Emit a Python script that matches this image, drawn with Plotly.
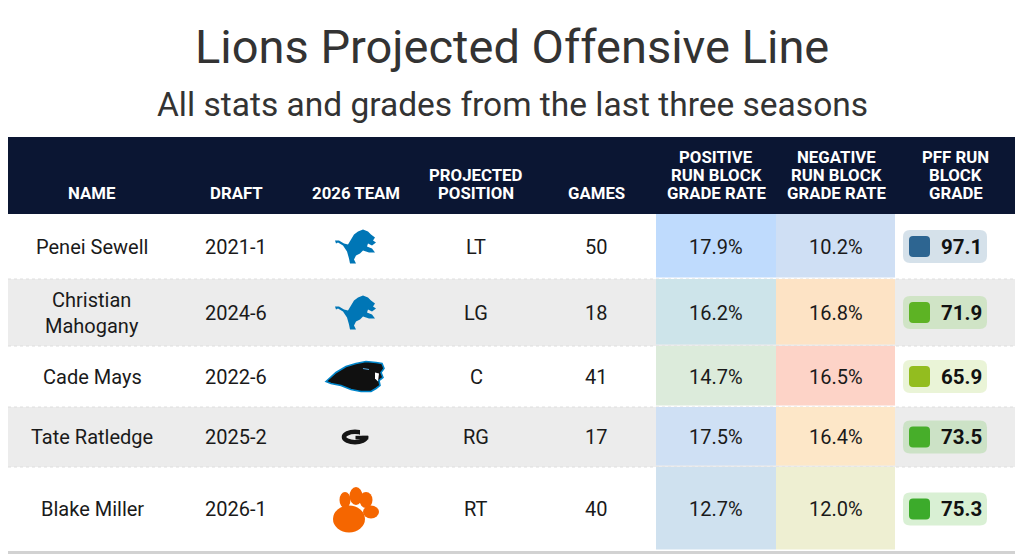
import plotly.graph_objects as go

# ---- data ----
names = ["Penei Sewell", "Christian Mahogany", "Cade Mays", "Tate Ratledge", "Blake Miller"]
drafts = ["2021-1", "2024-6", "2022-6", "2025-2", "2026-1"]
teams = ["Lions", "Lions", "Panthers", "Georgia", "Clemson"]
positions = ["LT", "LG", "C", "RG", "RT"]
games = [50, 18, 41, 17, 40]
pos_rate = [17.9, 16.2, 14.7, 17.5, 12.7]
neg_rate = [10.2, 16.8, 16.5, 16.4, 12.0]
grades = [97.1, 71.9, 65.9, 73.5, 75.3]

headers = [["NAME"], ["DRAFT"], ["2026 TEAM"], ["PROJECTED", "POSITION"], ["GAMES"],
           ["POSITIVE", "RUN BLOCK", "GRADE RATE"], ["NEGATIVE", "RUN BLOCK", "GRADE RATE"],
           ["PFF RUN", "BLOCK", "GRADE"]]

# ---- styles ----
pos_colors = ["#bfdbfd", "#cde4ea", "#dcebdb", "#cfe0f4", "#cfe1ef"]
neg_colors = ["#cfdff4", "#fde3c5", "#fdd3c7", "#fde7c8", "#eeefd2"]
badge_bg = ["#d5e1ea", "#d0e4c6", "#eaf4d7", "#cce2c6", "#d9f0d4"]
badge_sq = ["#2d6591", "#5db324", "#93bd1f", "#47ae2a", "#3cab2b"]

X_EDGES = [8, 176, 296, 416, 536, 656, 776, 896, 1015]
HEAD_TOP, HEAD_BOT = 137, 214
ROW_H = [65, 67, 61, 60, 84]
STRIPE = "#ececec"
NAVY = "#0b1633"
FONT = "Roboto"

W, H = 1024, 560
fig = go.Figure()
shapes = []
ann = []


def rrect(x0, y0, x1, y1, r):
    return (f"M {x0+r},{y0} L {x1-r},{y0} Q {x1},{y0} {x1},{y0+r} L {x1},{y1-r} "
            f"Q {x1},{y1} {x1-r},{y1} L {x0+r},{y1} Q {x0},{y1} {x0},{y1-r} "
            f"L {x0},{y0+r} Q {x0},{y0} {x0+r},{y0} Z")


def poly(cx, cy, pts, ox, oy):
    s = " L ".join(f"{cx + px - ox},{cy + py - oy}" for px, py in pts)
    return "M " + s + " Z"


LION = [(1, 11), (5, 11), (10, 14), (14, 15), (17, 10), (20, 5), (24, 2), (29, 0), (34, 2),
        (37, 5), (41, 8), (39, 11), (42, 13), (38, 16), (34, 14), (33, 17), (38, 19), (41, 23),
        (35, 23), (29, 21), (26, 24), (22, 26), (20, 30), (22, 34), (16, 34), (15, 29),
        (13, 22), (9, 16), (4, 13), (2, 14)]
PANTHER = [(0, 21), (10, 12), (20, 6), (30, 3), (40, 1), (50, 2), (56, 3), (58, 8), (55, 12),
           (57, 17), (53, 20), (54, 25), (50, 28), (45, 31), (35, 31), (25, 29), (15, 25), (5, 23)]


def logo(team, cx, cy, bg):
    out = []
    if team == "Lions":
        out.append(dict(type="path", path=poly(cx, cy, LION, 21, 17),
                        fillcolor="#0076b6", line=dict(width=0)))
    elif team == "Panthers":
        out.append(dict(type="path", path=poly(cx, cy, PANTHER, 29, 16),
                        fillcolor="#101010", line=dict(color="#0085ca", width=1.6)))
        out.append(dict(type="path",
                        path=f"M {cx+20},{cy-4} L {cx+24},{cy-3} L {cx+23},{cy+5} L {cx+20},{cy+2} Z",
                        fillcolor="white", line=dict(width=0)))
        out.append(dict(type="line", x0=cx + 8, x1=cx + 14, y0=cy - 8, y1=cy - 7,
                        line=dict(color="#5aa9dd", width=1.2)))
    elif team == "Georgia":
        out.append(dict(type="circle", x0=cx - 11, x1=cx + 11, y0=cy - 5.2, y1=cy + 5.2,
                        line=dict(color="#151515", width=4.6)))
        out.append(dict(type="rect", x0=cx + 5, x1=cx + 16, y0=cy - 10, y1=cy - 1.2,
                        fillcolor=bg, line=dict(width=0)))
        out.append(dict(type="rect", x0=cx + 0.5, x1=cx + 13.3, y0=cy - 1.2, y1=cy + 2.4,
                        fillcolor="#151515", line=dict(width=0)))
    elif team == "Clemson":
        orange = "#f56600"
        for dx, dy, rx, ry in [(-10, -9, 5.5, 8), (1, -13, 6.5, 9), (11, -9, 6.5, 8),
                               (16, 3, 8, 6.5), (-6, 10, 16, 13.5)]:
            out.append(dict(type="circle", x0=cx + dx - rx, x1=cx + dx + rx,
                            y0=cy + dy - ry, y1=cy + dy + ry,
                            fillcolor=orange, line=dict(width=0)))
    return out


# header band
shapes.append(dict(type="rect", x0=X_EDGES[0], x1=X_EDGES[-1], y0=HEAD_TOP, y1=HEAD_BOT,
                   fillcolor=NAVY, line=dict(width=0), layer="below"))
for j, lines in enumerate(headers):
    cx = (X_EDGES[j] + X_EDGES[j + 1]) / 2
    n = len(lines)
    for k, t in enumerate(lines):
        ann.append(dict(x=cx, y=193 - (n - 1 - k) * 18, text=t, showarrow=False,
                        font=dict(family=FONT, size=16.8, color="white", weight="bold")))

# rows
top = HEAD_BOT
for i in range(len(names)):
    bot = top + ROW_H[i]
    cy = (top + bot) / 2
    bg = STRIPE if i % 2 == 1 else "white"
    if i % 2 == 1:
        shapes.append(dict(type="rect", x0=X_EDGES[0], x1=X_EDGES[-1], y0=top, y1=bot,
                           fillcolor=STRIPE, line=dict(width=0), layer="below"))
    if i > 0:
        shapes.append(dict(type="line", x0=X_EDGES[0], x1=X_EDGES[-1], y0=top, y1=top,
                           line=dict(color="#dedede", width=1, dash="dot")))
    # heatmap cells
    shapes.append(dict(type="rect", x0=X_EDGES[5], x1=X_EDGES[6], y0=top, y1=bot - 1.5,
                       fillcolor=pos_colors[i], line=dict(width=0)))
    shapes.append(dict(type="rect", x0=X_EDGES[6], x1=X_EDGES[7] - 1, y0=top, y1=bot - 1.5,
                       fillcolor=neg_colors[i], line=dict(width=0)))
    # badge
    shapes.append(dict(type="path", path=rrect(903, cy - 16.5, 987, cy + 16.5, 7),
                       fillcolor=badge_bg[i], line=dict(width=0)))
    shapes.append(dict(type="path", path=rrect(909, cy - 10.5, 930, cy + 10.5, 4),
                       fillcolor=badge_sq[i], line=dict(width=0)))
    ann.append(dict(x=984, y=cy, text=f"{grades[i]:.1f}", showarrow=False, xanchor="right",
                    font=dict(family=FONT, size=20.5, color="#111111", weight="bold")))
    # logo
    lx = (X_EDGES[2] + X_EDGES[3]) / 2 - 1
    shapes.extend(logo(teams[i], lx, cy, bg))
    # text cells
    name = names[i].replace(" ", "<br>", 1) if len(names[i]) > 15 else names[i]
    vals = [name, drafts[i], None, positions[i], str(games[i]),
            f"{pos_rate[i]:.1f}%", f"{neg_rate[i]:.1f}%"]
    for j, v in enumerate(vals):
        if v is None:
            continue
        ann.append(dict(x=(X_EDGES[j] + X_EDGES[j + 1]) / 2, y=cy, text=v, showarrow=False,
                        font=dict(family=FONT, size=20, color="#1a1a1a")))
    top = bot

# bottom rule
shapes.append(dict(type="line", x0=X_EDGES[0], x1=X_EDGES[-1], y0=top + 1.5, y1=top + 1.5,
                   line=dict(color="#d2d2d2", width=3)))

# titles
ann.append(dict(x=W / 2, y=46, text="Lions Projected Offensive Line", showarrow=False,
                font=dict(family=FONT, size=47, color="#333333")))
ann.append(dict(x=W / 2, y=104, text="All stats and grades from the last three seasons",
                showarrow=False, font=dict(family=FONT, size=33.5, color="#333333")))

fig.update_layout(
    width=W, height=H,
    margin=dict(l=0, r=0, t=0, b=0),
    paper_bgcolor="white", plot_bgcolor="white",
    xaxis=dict(range=[0, W], visible=False, fixedrange=True),
    yaxis=dict(range=[H, 0], visible=False, fixedrange=True),
    shapes=shapes, annotations=ann, showlegend=False,
)
fig.write_html("out.html", config=dict(displayModeBar=False),
               post_script="document.body.style.margin='0';")
